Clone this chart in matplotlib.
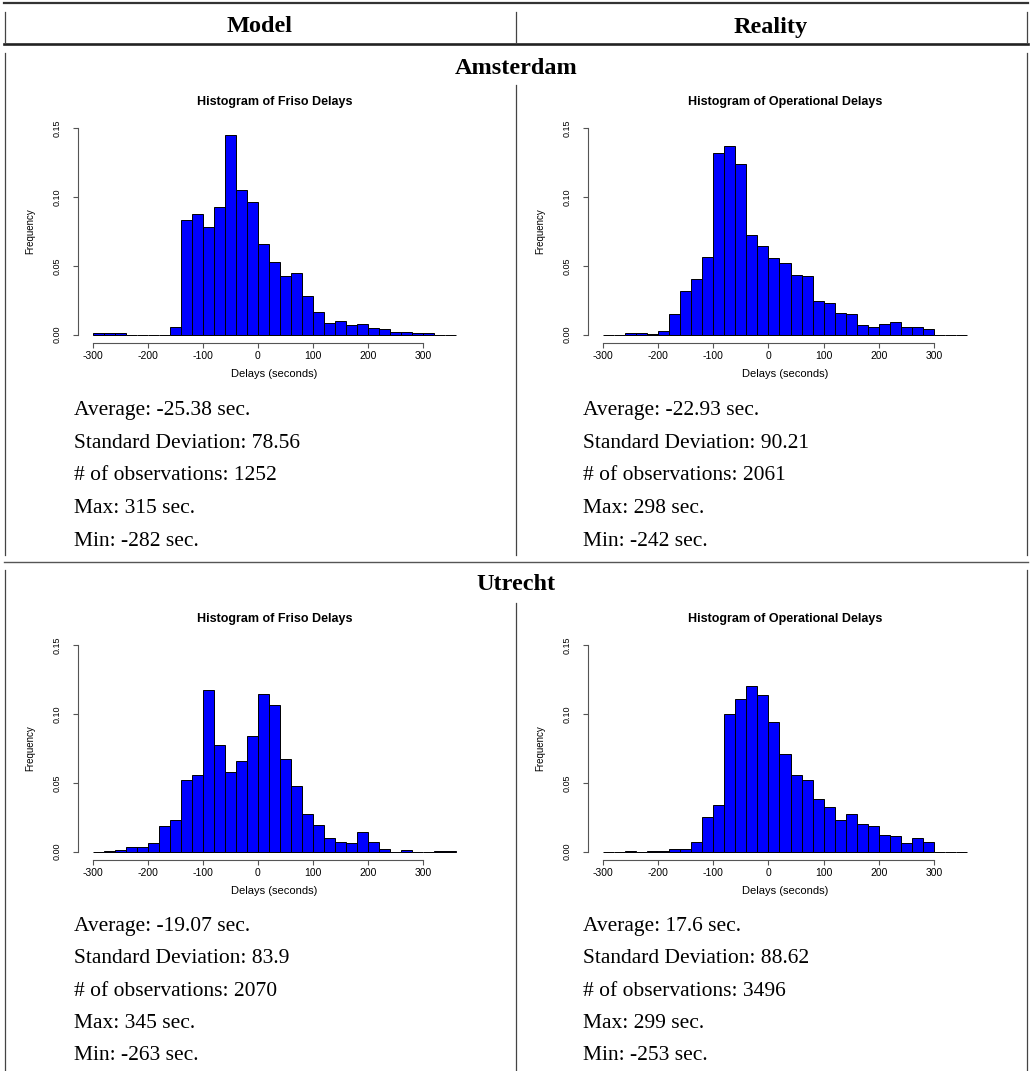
import matplotlib.pyplot as plt
import numpy as np

# bin left edges (20 s bins from -300 to 360)
bin_edges = np.arange(-300, 361, 20)

ams_model = [0.001, 0.001, 0.001, 0, 0, 0, 0, 0.0056, 0.083, 0.0876, 0.078,
             0.093, 0.145, 0.105, 0.0963, 0.066, 0.053, 0.043, 0.0445, 0.0285,
             0.0167, 0.0087, 0.0102, 0.0073, 0.008, 0.0048, 0.0039, 0.0017,
             0.0022, 0.001, 0.001, 0, 0]
ams_real = [0, 0, 0.001, 0.001, 0.0005, 0.003, 0.0148, 0.0315, 0.0404, 0.0566,
            0.132, 0.137, 0.124, 0.0726, 0.0648, 0.0561, 0.0518, 0.0436,
            0.0426, 0.0247, 0.0232, 0.0157, 0.015, 0.0073, 0.0058, 0.0077,
            0.0092, 0.0058, 0.0058, 0.0044, 0, 0, 0]
utr_model = [0, 0.0005, 0.001, 0.0034, 0.0034, 0.0063, 0.0187, 0.0228, 0.052,
             0.056, 0.1173, 0.0778, 0.0579, 0.0657, 0.0841, 0.1144, 0.1066,
             0.0674, 0.0477, 0.0274, 0.0196, 0.0097, 0.0068, 0.0063, 0.0143,
             0.007, 0.0019, 0, 0.0015, 0, 0, 0.0003, 0.0003]
utr_real = [0, 0, 0.0003, 0, 0.0003, 0.0007, 0.0017, 0.0022, 0.007, 0.0254,
            0.0339, 0.1001, 0.1112, 0.1204, 0.1136, 0.094, 0.0712, 0.0555,
            0.0518, 0.038, 0.0322, 0.0233, 0.0274, 0.0204, 0.0189, 0.0124,
            0.0116, 0.0065, 0.0099, 0.007, 0, 0, 0]

ams_model_stats = ["Average: -25.38 sec.", "Standard Deviation: 78.56",
                   "# of observations: 1252", "Max: 315 sec.", "Min: -282 sec."]
ams_real_stats = ["Average: -22.93 sec.", "Standard Deviation: 90.21",
                  "# of observations: 2061", "Max: 298 sec.", "Min: -242 sec."]
utr_model_stats = ["Average: -19.07 sec.", "Standard Deviation: 83.9",
                   "# of observations: 2070", "Max: 345 sec.", "Min: -263 sec."]
utr_real_stats = ["Average: 17.6 sec.", "Standard Deviation: 88.62",
                  "# of observations: 3496", "Max: 299 sec.", "Min: -253 sec."]

W, H = 1032, 1071
fig = plt.figure(figsize=(W / 100, H / 100), dpi=100)

# table layer in pixel coordinates
tab = fig.add_axes([0, 0, 1, 1])
tab.set_xlim(0, W)
tab.set_ylim(H, 0)
tab.axis("off")

serif = "Liberation Serif"
sans = "Liberation Sans"
line_col = "#444444"

tab.plot([4, 1028], [3, 3], color="#333333", lw=1.6)
tab.plot([4, 1028], [44, 44], color="#222222", lw=1.9)
tab.plot([4, 1028], [562, 562], color="#555555", lw=1.0)
for x in [4.5, 1027]:
    for y0, y1 in [(12, 43), (53, 555), (570, 1071)]:
        tab.plot([x, x], [y0, y1], color=line_col, lw=0.9)
for y0, y1 in [(12, 43), (85, 555), (603, 1071)]:
    tab.plot([516, 516], [y0, y1], color=line_col, lw=0.9)

tab.text(260, 27, "Model", family=serif, weight="bold", fontsize=17.5,
         ha="center", va="center")
tab.text(771, 27, "Reality", family=serif, weight="bold", fontsize=17.5,
         ha="center", va="center")
tab.text(516, 68, "Amsterdam", family=serif, weight="bold", fontsize=17.5,
         ha="center", va="center")
tab.text(516, 584, "Utrecht", family=serif, weight="bold", fontsize=17.5,
         ha="center", va="center")


def stats_block(lines, x, y0):
    for i, s in enumerate(lines):
        tab.text(x, y0 + i * 32.5, s, family=serif, fontsize=15.5,
                 ha="left", va="center")


stats_block(ams_model_stats, 74, 411)
stats_block(ams_real_stats, 583, 411)
stats_block(utr_model_stats, 74, 926)
stats_block(utr_real_stats, 583, 926)


def hist_panel(left, top, right, bottom, heights, title):
    ax = fig.add_axes([left / W, 1 - bottom / H, (right - left) / W,
                       (bottom - top) / H])
    ax.bar(bin_edges[:-1], heights, width=20, align="edge", color="#0000ff",
           edgecolor="black", linewidth=0.7)
    ax.set_xlim(-326.4, 386.4)
    ax.set_ylim(-0.006, 0.156)
    ax.patch.set_alpha(0)
    for side in ["top", "right"]:
        ax.spines[side].set_visible(False)
    ax.spines["left"].set_bounds(0, 0.15)
    ax.spines["bottom"].set_bounds(-300, 300)
    for side in ["left", "bottom"]:
        ax.spines[side].set_color("#555555")
        ax.spines[side].set_linewidth(0.8)
    ax.set_xticks(np.arange(-300, 301, 100))
    ax.set_xticklabels([str(v) for v in range(-300, 301, 100)],
                       family=sans, fontsize=7.5)
    ax.set_yticks([0, 0.05, 0.10, 0.15])
    ax.set_yticklabels(["0.00", "0.05", "0.10", "0.15"], family=sans,
                       fontsize=6.5, rotation=90, va="center")
    ax.tick_params(axis="x", length=3.6, width=0.8, color="#555555", pad=2.5)
    ax.tick_params(axis="y", length=3.6, width=0.8, color="#555555", pad=8.5)
    h = bottom - top
    w = right - left
    ax.text(0.5, 1 + 18 / h, title, transform=ax.transAxes, family=sans,
            weight="bold", fontsize=9, ha="center", va="center")
    ax.text(0.5, -31 / h, "Delays (seconds)", transform=ax.transAxes,
            family=sans, fontsize=8, ha="center", va="center")
    ax.text(-48 / w, 0.5, "Frequency", transform=ax.transAxes, family=sans,
            fontsize=7, rotation=90, ha="center", va="center")
    return ax


hist_panel(78, 120, 471, 343, ams_model, "Histogram of Friso Delays")
hist_panel(588, 120, 982, 343, ams_real, "Histogram of Operational Delays")
hist_panel(78, 637, 471, 860, utr_model, "Histogram of Friso Delays")
hist_panel(588, 637, 982, 860, utr_real, "Histogram of Operational Delays")

fig.savefig("out.png", dpi=100)
